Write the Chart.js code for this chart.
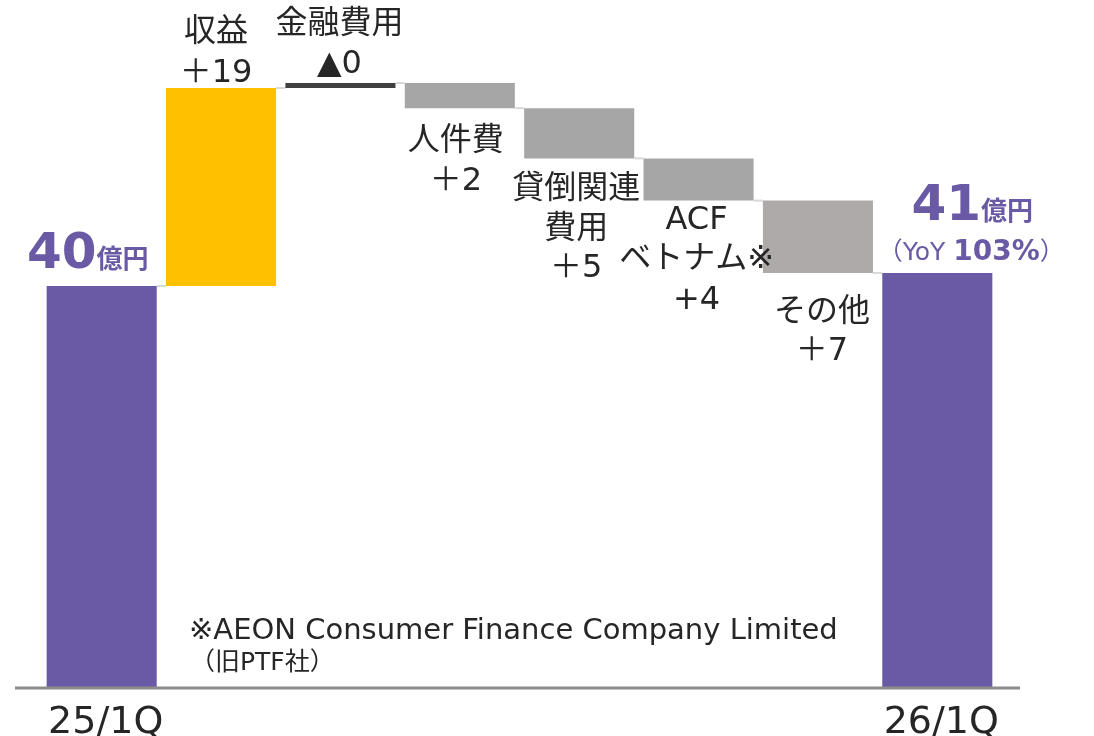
<!DOCTYPE html>
<html lang="ja">
<head>
<meta charset="utf-8">
<script src="https://cdn.jsdelivr.net/npm/chart.js@4/dist/chart.umd.min.js"></script>
<style>
  html, body { margin: 0; padding: 0; background: #fff; }
  #wrap { width: 1094px; height: 736px; position: relative; }
</style>
</head>
<body>
<div id="wrap"><canvas id="c"></canvas></div>
<script>
// 営業利益の増減（億円）
const categories = ["25/1Q", "収益", "金融費用", "人件費", "貸倒関連費用", "ACFベトナム※", "その他", "26/1Q"];
const barStart = [0, 40, 59.7, 60.2, 57.7, 52.7, 48.5, 0];
const barEnd = [40, 59.7, 60.2, 57.7, 52.7, 48.5, 41.3, 41.3];
const axisLabels = ["25/1Q", "", "", "", "", "", "", "26/1Q"];
const stepLabels = [
  [],
  ["収益", "＋19"],
  ["金融費用", "▲0"],
  ["人件費", "＋2"],
  ["貸倒関連", "費用", "＋5"],
  ["ACF", "ベトナム※", "+4"],
  ["その他", "＋7"],
  [],
];
const totalLabels = ["40億円", "41億円"];
const yoyLabel = "（YoY 103%）";
const footnote = ["※AEON Consumer Finance Company Limited", "（旧PTF社）"];

const COLORS = ["#6a5aa5", "#ffc000", "#404040", "#a6a6a6", "#a6a6a6", "#a6a6a6", "#aeaaaa", "#6a5aa5"];
const PURPLE = "#6a5aa5";
const TEXT = "#262626";
const FONT = "'DejaVu Sans', 'Noto Sans CJK JP', sans-serif";
const CJK = "'Noto Sans CJK JP', sans-serif";

// ラベルの位置（バー端からのずれ）
const labelPlace = [
  null,
  { above: true, lines: [-55, -14] },
  { above: true, lines: [-58, -18] },
  { above: false, lines: [34, 74] },
  { above: false, lines: [31, 71, 110] },
  { above: false, lines: [20, 59, 100] },
  { above: false, lines: [40, 79] },
  null,
];
const labelShiftX = [0, -5, -1, -4, -3, -2, 4, 0];

function drawMixed(ctx, parts, cx, baseline) {
  let total = 0;
  parts.forEach((p) => { ctx.font = p.font; total += ctx.measureText(p.text).width; });
  let x = cx - total / 2;
  ctx.textAlign = "left";
  ctx.textBaseline = "alphabetic";
  parts.forEach((p) => {
    ctx.font = p.font;
    ctx.fillStyle = p.color;
    ctx.fillText(p.text, x, baseline);
    x += ctx.measureText(p.text).width;
  });
}

const waterfallPlugin = {
  id: "waterfall",
  beforeDatasetsDraw(chart) {
    const ctx = chart.ctx;
    const meta = chart.getDatasetMeta(0);
    const y = chart.scales.y;
    // 接続線
    ctx.save();
    ctx.strokeStyle = "#d9d9d9";
    ctx.lineWidth = 2;
    for (let i = 0; i < meta.data.length - 1; i++) {
      const a = meta.data[i], b = meta.data[i + 1];
      const py = y.getPixelForValue(barEnd[i]);
      ctx.beginPath();
      ctx.moveTo(a.x + a.width / 2, py);
      ctx.lineTo(b.x - b.width / 2, py);
      ctx.stroke();
    }
    ctx.restore();
  },
  afterDatasetsDraw(chart) {
    const ctx = chart.ctx;
    const meta = chart.getDatasetMeta(0);
    const y = chart.scales.y;
    const area = chart.chartArea;
    ctx.save();

    // 基準線
    const by = y.getPixelForValue(0);
    ctx.strokeStyle = "#8c8c8c";
    ctx.lineWidth = 3;
    ctx.beginPath();
    ctx.moveTo(area.left - 27, by);
    ctx.lineTo(area.right + 23, by);
    ctx.stroke();

    // 軸ラベル
    ctx.fillStyle = TEXT;
    ctx.font = "38px " + FONT;
    ctx.textAlign = "center";
    ctx.textBaseline = "alphabetic";
    meta.data.forEach((bar, i) => {
      if (axisLabels[i]) ctx.fillText(axisLabels[i], bar.x + 4, by + 45);
    });

    // 増減ラベル
    ctx.font = "32px " + FONT;
    ctx.fillStyle = TEXT;
    ctx.textBaseline = "middle";
    meta.data.forEach((bar, i) => {
      const place = labelPlace[i];
      if (!place) return;
      const top = y.getPixelForValue(Math.max(barStart[i], barEnd[i]));
      const bottom = y.getPixelForValue(Math.min(barStart[i], barEnd[i]));
      const ref = place.above ? top : bottom;
      stepLabels[i].forEach((line, k) => {
        ctx.fillText(line, bar.x + labelShiftX[i], ref + place.lines[k]);
      });
    });

    // 合計ラベル
    const first = meta.data[0], last = meta.data[meta.data.length - 1];
    const t0 = y.getPixelForValue(barEnd[0]);
    const t1 = y.getPixelForValue(barEnd[barEnd.length - 1]);
    drawMixed(ctx, [
      { text: totalLabels[0].slice(0, 2), font: "bold 50px " + FONT, color: PURPLE },
      { text: totalLabels[0].slice(2), font: "bold 26px " + CJK, color: PURPLE },
    ], first.x - 14, t0 - 18);
    drawMixed(ctx, [
      { text: totalLabels[1].slice(0, 2), font: "bold 50px " + FONT, color: PURPLE },
      { text: totalLabels[1].slice(2), font: "bold 26px " + CJK, color: PURPLE },
    ], last.x + 35, t1 - 53);
    drawMixed(ctx, [
      { text: yoyLabel.slice(0, 1), font: "25px " + CJK, color: PURPLE },
      { text: yoyLabel.slice(1, 5), font: "25px " + FONT, color: PURPLE },
      { text: yoyLabel.slice(5, 9), font: "bold 28px " + FONT, color: PURPLE },
      { text: yoyLabel.slice(9), font: "25px " + CJK, color: PURPLE },
    ], last.x + 34, t1 - 13);

    // 注記
    ctx.fillStyle = TEXT;
    ctx.textAlign = "left";
    ctx.textBaseline = "alphabetic";
    ctx.font = "29px " + FONT;
    ctx.fillText(footnote[0], area.left + 147, by - 49);
    ctx.font = "25px " + FONT;
    ctx.fillText(footnote[1], area.left + 148, by - 18);

    ctx.restore();
  },
};

new Chart(document.getElementById("c"), {
  type: "bar",
  data: {
    labels: categories,
    datasets: [{
      data: barStart.map((s, i) => [s, barEnd[i]]),
      backgroundColor: COLORS,
      borderWidth: 0,
      borderSkipped: false,
      categoryPercentage: 1.0,
      barPercentage: 0.922,
    }],
  },
  options: {
    responsive: true,
    maintainAspectRatio: false,
    animation: false,
    layout: { padding: { left: 42, right: 97, top: 0, bottom: 48 } },
    plugins: { legend: { display: false }, tooltip: { enabled: false } },
    scales: {
      x: { display: false },
      y: { display: false, min: 0, max: 68.46 },
    },
  },
  plugins: [waterfallPlugin],
});
</script>
</body>
</html>
